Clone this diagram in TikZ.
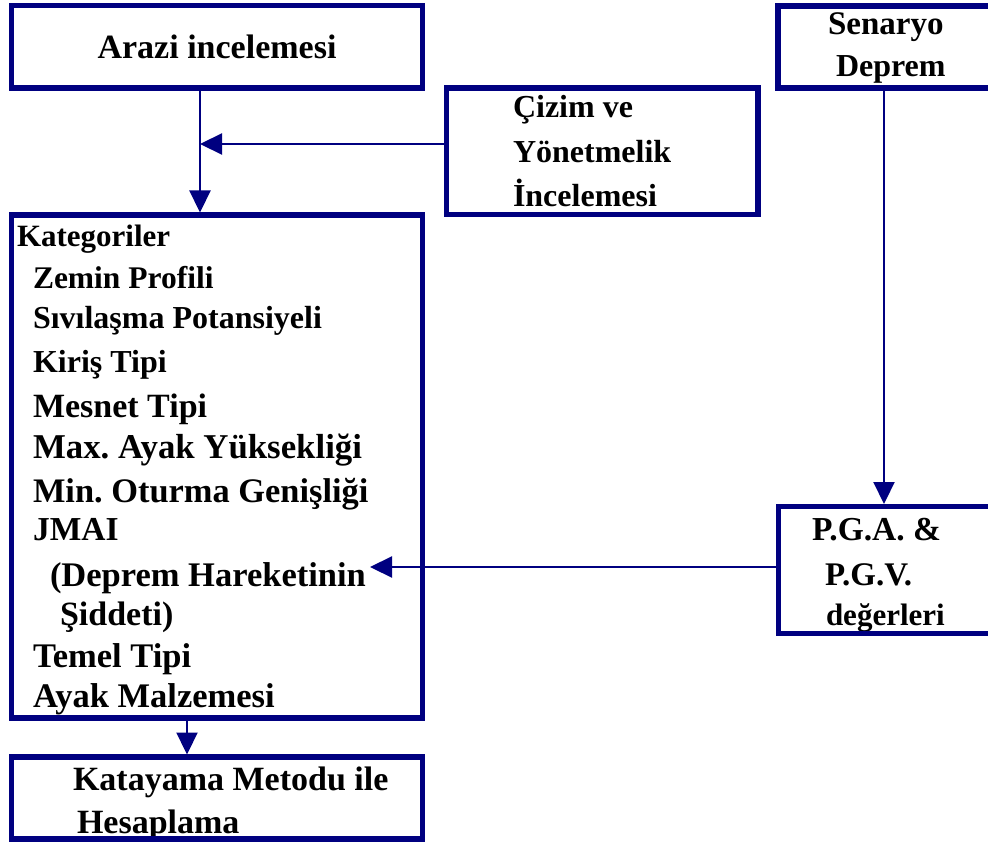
\documentclass[tikz,border=0pt]{standalone}
\usepackage{fontspec}
\setmainfont{Liberation Serif}
\usetikzlibrary{arrows.meta}
\definecolor{nv}{RGB}{0,0,128}
\frenchspacing
\begin{document}
\begin{tikzpicture}[x=1pt,y=-1pt,
  box/.style={draw=nv,line width=5.5pt,rectangle,inner sep=0pt,outer sep=0pt,anchor=north west},
  conn/.style={draw=nv,line width=2.2pt,-{Triangle[length=22pt,width=21pt]}},
  tx/.style={anchor=base west,inner sep=0pt,outer sep=0pt,font=\bfseries\frenchspacing\fontsize{#1}{#1}\selectfont},
]
\useasboundingbox (0,0) rectangle (988,845);
\clip (0,0) rectangle (988,845);

% texts
\node[tx=33] (t1) at (828,35) {Senaryo};
\node[tx=32] (t2) at (836,77) {Deprem};
\node[tx=32] (t3) at (513,118) {Çizim ve};
\node[tx=32] (t4) at (513,163) {Yönetmelik};
\node[tx=32] (t5) at (513,207) {İncelemesi};
\node[tx=31] (k0) at (17,247) {Kategoriler};
\node[tx=31.5] (k1) at (33,288) {Zemin Profili};
\node[tx=32] (k2) at (33,328) {Sıvılaşma Potansiyeli};
\node[tx=32] (k3) at (33,372) {Kiriş Tipi};
\node[tx=34] (k4) at (33,417) {Mesnet Tipi};
\node[tx=34.8] (k5) at (33,458) {Max. Ayak Yüksekliği};
\node[tx=34.4] (k6) at (33,502) {Min. Oturma Genişliği};
\node[tx=33.5] (k7) at (33,540) {JMAI};
\node[tx=34.5] (k8) at (50,586) {(Deprem Hareketinin};
\node[tx=34] (k9) at (60,625) {Şiddeti)};
\node[tx=34.5] (k10) at (33,667) {Temel Tipi};
\node[tx=34.5] (k11) at (33,707) {Ayak Malzemesi};
\node[tx=33.5] (p1) at (812,540) {P.G.A. \&};
\node[tx=33] (p2) at (825,585) {P.G.V.};
\node[tx=31] (p3) at (826,625) {değerleri};
\node[tx=34] (m1) at (73,790) {Katayama Metodu ile};
\node[tx=34] (m2) at (77,833) {Hesaplama};

% boxes
\node[box,minimum width=411pt,minimum height=82.5pt,font=\bfseries\fontsize{34}{34}\selectfont] (arazi) at (11.5,5.5) {Arazi incelemesi};
\node[box,minimum width=311.5pt,minimum height=126.5pt] (cizim) at (446.5,88) {};
\node[box,minimum width=222pt,minimum height=82pt] (senaryo) at (778,6) {};
\node[box,minimum width=411pt,minimum height=503pt] (kat) at (11.5,215) {};
\node[box,minimum width=222pt,minimum height=127pt] (pga) at (778.5,506.5) {};
\node[box,minimum width=411pt,minimum height=82pt] (katay) at (11.5,757) {};

% junction coordinates
\coordinate (j1) at (200,144);
\coordinate (j2) at (884,300);
\coordinate (j3) at (370,567);
\coordinate (j4) at (187,760);

% connectors
\draw[conn,shorten >=2.5pt] (arazi.south -| j1) -- (kat.north -| j1);
\draw[conn] (cizim.west |- j1) -- (j1);
\draw[conn,shorten >=2.5pt] (senaryo.south -| j2) -- (pga.north -| j2);
\draw[conn] (pga.west |- j3) -- (j3);
\draw[conn,shorten >=2.5pt] (kat.south -| j4) -- (katay.north -| j4);
\end{tikzpicture}
\end{document}
